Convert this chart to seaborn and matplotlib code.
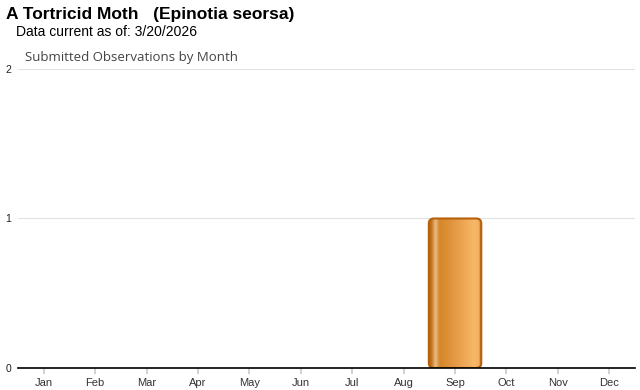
import numpy as np
import pandas as pd
import matplotlib
matplotlib.use("Agg")
import matplotlib.pyplot as plt
import seaborn as sns
from matplotlib.patches import FancyBboxPatch
from matplotlib.colors import LinearSegmentedColormap

months = ["Jan", "Feb", "Mar", "Apr", "May", "Jun", "Jul", "Aug", "Sep", "Oct", "Nov", "Dec"]
counts = [0, 0, 0, 0, 0, 0, 0, 0, 1, 0, 0, 0]
y_ticks = [0, 1, 2]
title = "A Tortricid Moth   (Epinotia seorsa)"
subtitle = "Data current as of: 3/20/2026"
chart_title = "Submitted Observations by Month"

sns.set_theme(style="white")
plt.rcParams['font.family'] = ['Liberation Sans', 'DejaVu Sans']

df = pd.DataFrame({"month": months, "count": counts})

fig = plt.figure(figsize=(6.4, 3.9), dpi=100)
ax = fig.add_axes([18/640, 1 - 368/390, (635-18)/640, (368-69)/390])

sns.barplot(data=df, x="month", y="count", ax=ax, color="#d98a30", width=1.02,
            saturation=1, edgecolor="none")

ax.set_ylim(0, 2)
ax.set_xlim(-0.5, 11.5)
ax.set_yticks(y_ticks)
ax.set_yticklabels([str(v) for v in y_ticks], fontsize=7.5, color="#222222")
ax.tick_params(axis="y", length=0, pad=5)
ax.tick_params(axis="x", length=4, color="#cccccc", labelsize=8, labelcolor="#333333", pad=3, bottom=True)
ax.set_xlabel("")
ax.set_ylabel("")
ax.yaxis.grid(True, color="#e2e2e2", linewidth=0.8)
ax.set_axisbelow(True)
for s in ["top", "right", "left"]:
    ax.spines[s].set_visible(False)
ax.spines["bottom"].set_color("black")
ax.spines["bottom"].set_linewidth(1.2)
ax.spines["bottom"].set_zorder(5)

# gradient rounded bars
cmap = LinearSegmentedColormap.from_list("g", [
    (0.0, "#b5620e"), (0.05, "#c8761e"), (0.12, "#e8bd8a"), (0.2, "#d58628"),
    (0.5, "#e69a45"), (0.85, "#f7b868"), (0.94, "#f5b060"), (1.0, "#b5620e")])
grad = np.linspace(0, 1, 256).reshape(1, -1)
for p in list(ax.patches):
    h = p.get_height()
    if h <= 0:
        continue
    x0, w = p.get_x(), p.get_width()
    p.set_visible(False)
    style = "round,pad=0,rounding_size=0.1"
    rr = FancyBboxPatch((x0, 0), w, h, boxstyle=style,
                        mutation_aspect=0.33, facecolor="none", edgecolor="#b5620e",
                        linewidth=1.5, transform=ax.transData, zorder=4)
    ax.add_patch(rr)
    im = ax.imshow(grad, extent=[x0, x0 + w, 0, h], aspect="auto", cmap=cmap,
                   zorder=3, interpolation="bilinear")
    clip = FancyBboxPatch((x0, 0), w, h, boxstyle=style,
                          mutation_aspect=0.33, facecolor="none", edgecolor="none",
                          transform=ax.transData)
    ax.add_patch(clip)
    im.set_clip_path(clip)
ax.set_xlim(-0.5, 11.5)
ax.set_ylim(0, 2)

fig.text(6/640, 1 - 15/390, title, fontsize=12.5, fontweight="bold", color="black", va="center", ha="left")
fig.text(16/640, 1 - 32/390, subtitle, fontsize=10, color="black", va="center", ha="left")
fig.text(25/640, 1 - 58/390, chart_title, fontsize=9.5, color="#444444", va="center", ha="left",
         family=["Open Sans", "DejaVu Sans"])

fig.savefig("out.png", dpi=100)
